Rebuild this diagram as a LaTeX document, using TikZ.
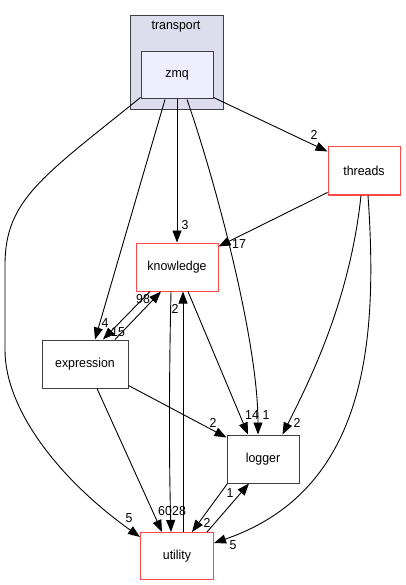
\documentclass[tikz,border=0pt]{standalone}
\usepackage{fontspec}
\setmainfont{Liberation Sans}
\newfontfamily\nodefont[FakeStretch=0.95]{Liberation Sans}
\newfontfamily\lblfont[FakeStretch=0.95]{Liberation Sans}
\usetikzlibrary{arrows.meta}
\definecolor{clfill}{HTML}{DDDDEE}
\definecolor{clborder}{HTML}{404040}
\definecolor{zmqfill}{HTML}{EEEEFF}
\definecolor{trunc}{HTML}{FF4848}
\begin{document}
\begin{tikzpicture}[x=1pt,y=-1pt,
  box/.style={draw=clborder, line width=1pt, fill=white, inner sep=0pt, font=\nodefont\fontsize{13}{15}\selectfont},
  redbox/.style={box, draw=trunc},
  cluster/.style={draw=clborder, line width=1pt, fill=clfill, inner sep=0pt},
  edge/.style={draw=black, line width=0.9pt, -{Triangle[length=12pt,width=9pt]}},
  lbl/.style={font=\lblfont\fontsize{13}{15}\selectfont, inner sep=0pt}]
\useasboundingbox (0,0) rectangle (405,585);
% nodes
\node[cluster, minimum width=93pt, minimum height=94pt] (transport) at (176.5,63) {};
\node[font=\nodefont\fontsize{13}{15}\selectfont, inner sep=0pt] (tlabel) at (176,27) {transport};
\node[box, fill=zmqfill, minimum width=72pt, minimum height=47pt] (zmq) at (177,75.5) {zmq};
\node[redbox, minimum width=72pt, minimum height=48pt] (threads) at (364,171) {threads};
\node[redbox, minimum width=82pt, minimum height=48pt] (knowledge) at (177,267) {knowledge};
\node[box, minimum width=86pt, minimum height=48pt] (expression) at (85,364) {expression};
\node[box, minimum width=72pt, minimum height=48pt] (logger) at (263,459) {logger};
\node[redbox, minimum width=73pt, minimum height=47pt] (utility) at (177,556) {utility};
% edges
\draw[edge] ([yshift=2pt]zmq.south east) -- ([yshift=-5pt]threads.north west);
\draw[edge] (zmq.south) -- (knowledge.north);
\draw[edge] ([xshift=-12pt]zmq.south) -- ([xshift=10pt]expression.north);
\draw[edge] ([xshift=10pt]zmq.south) .. controls (215,180) and (258,340) .. ([xshift=-5pt]logger.north);
\draw[edge] ([yshift=2pt]zmq.south west) .. controls (42,177) and (5,200) .. (5,265) -- (5,350) .. controls (5,410) and (60,480) .. ([yshift=-5pt]utility.north west);
\draw[edge] ([yshift=3pt]threads.south west) -- ([yshift=-4pt]knowledge.north east);
\draw[edge] ([xshift=-3pt]threads.south) .. controls (350,300) and (310,380) .. ([xshift=-17pt]logger.north east);
\draw[edge] ([xshift=4pt]threads.south) .. controls (378,340) and (368,490) .. ([yshift=-11pt]utility.north east);
\draw[edge] ([xshift=-27pt]knowledge.south) -- ([xshift=18pt]expression.north);
\draw[edge] ([xshift=30pt]expression.north) -- ([xshift=-16pt]knowledge.south);
\draw[edge] ([xshift=-6pt]knowledge.south) .. controls (169,380) and (169,460) .. ([xshift=-6pt]utility.north);
\draw[edge] ([xshift=6pt]utility.north) -- ([xshift=6pt]knowledge.south);
\draw[edge] ([xshift=12pt]expression.south) -- ([xshift=-15pt]utility.north);
\draw[edge] ([yshift=3pt]expression.south east) -- ([yshift=-3pt]logger.north west);
\draw[edge] ([xshift=11pt]knowledge.south) -- ([xshift=-15pt]logger.north);
\draw[edge] ([xshift=1pt]logger.south west) -- ([xshift=15pt]utility.north);
\draw[edge] ([xshift=30pt]utility.north) -- ([xshift=-14pt]logger.south);
% labels
\node[lbl] (l1) at (314,135) {2};
\node[lbl] (l2) at (185,225) {3};
\node[lbl] (l3) at (105,323) {4};
\node[lbl] (l4) at (118,332) {15};
\node[lbl] (l5) at (143,299) {98};
\node[lbl] (l6) at (175,309) {2};
\node[lbl] (l7) at (239,244) {17};
\node[lbl] (l8) at (252,415) {14};
\node[lbl] (l9) at (266,415) {1};
\node[lbl] (l10) at (213,423) {2};
\node[lbl] (l11) at (297,423) {2};
\node[lbl] (l12) at (165,511) {60};
\node[lbl] (l13) at (179,511) {28};
\node[lbl] (l14) at (129,518) {5};
\node[lbl] (l15) at (230,493) {1};
\node[lbl] (l16) at (207,523) {2};
\node[lbl] (l17) at (233,545) {5};
\end{tikzpicture}
\end{document}
